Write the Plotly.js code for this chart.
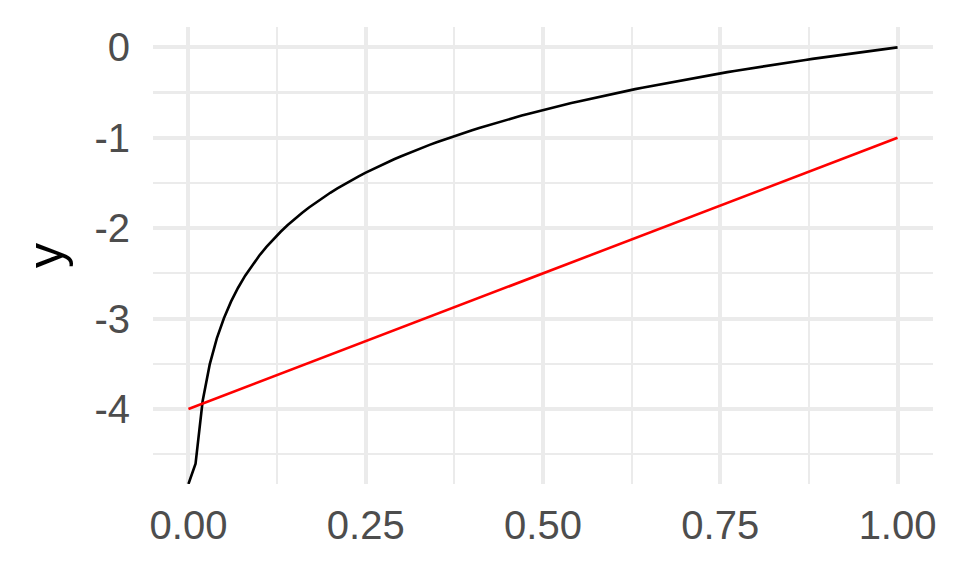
<!DOCTYPE html>
<html>
<head>
<meta charset="utf-8">
<script src="https://cdn.plot.ly/plotly-3.0.1.min.js"></script>
<style>
  html, body { margin: 0; padding: 0; background: #ffffff; }
  #chart { width: 960px; height: 576px; }
</style>
</head>
<body>
<div id="chart"></div>
<script>
// Black curve (first point sits on the lower panel edge)
var curveX = [0.00, 0.01, 0.02, 0.03, 0.04, 0.05, 0.06, 0.07, 0.08, 0.09,
  0.10, 0.11, 0.12, 0.13, 0.14, 0.15, 0.16, 0.17, 0.18, 0.19,
  0.20, 0.21, 0.22, 0.23, 0.24, 0.25, 0.26, 0.27, 0.28, 0.29,
  0.30, 0.31, 0.32, 0.33, 0.34, 0.35, 0.36, 0.37, 0.38, 0.39,
  0.40, 0.41, 0.42, 0.43, 0.44, 0.45, 0.46, 0.47, 0.48, 0.49,
  0.50, 0.51, 0.52, 0.53, 0.54, 0.55, 0.56, 0.57, 0.58, 0.59,
  0.60, 0.61, 0.62, 0.63, 0.64, 0.65, 0.66, 0.67, 0.68, 0.69,
  0.70, 0.71, 0.72, 0.73, 0.74, 0.75, 0.76, 0.77, 0.78, 0.79,
  0.80, 0.81, 0.82, 0.83, 0.84, 0.85, 0.86, 0.87, 0.88, 0.89,
  0.90, 0.91, 0.92, 0.93, 0.94, 0.95, 0.96, 0.97, 0.98, 0.99, 1.00];
var curveY = [-4.830, -4.605, -3.912, -3.507, -3.219, -2.996, -2.813, -2.659, -2.526, -2.408,
  -2.303, -2.207, -2.120, -2.040, -1.966, -1.897, -1.833, -1.772, -1.715, -1.661,
  -1.609, -1.561, -1.514, -1.470, -1.427, -1.386, -1.347, -1.309, -1.273, -1.238,
  -1.204, -1.171, -1.139, -1.109, -1.079, -1.050, -1.022, -0.994, -0.968, -0.942,
  -0.916, -0.892, -0.868, -0.844, -0.821, -0.799, -0.777, -0.755, -0.734, -0.713,
  -0.693, -0.673, -0.654, -0.635, -0.616, -0.598, -0.580, -0.562, -0.545, -0.528,
  -0.511, -0.494, -0.478, -0.462, -0.446, -0.431, -0.416, -0.400, -0.386, -0.371,
  -0.357, -0.342, -0.329, -0.315, -0.301, -0.288, -0.274, -0.261, -0.248, -0.236,
  -0.223, -0.211, -0.198, -0.186, -0.174, -0.163, -0.151, -0.139, -0.128, -0.117,
  -0.105, -0.094, -0.083, -0.073, -0.062, -0.051, -0.041, -0.030, -0.020, -0.010, 0.000];

// Red straight line
var lineX = [0.00, 1.00];
var lineY = [-4.00, -1.00];

// Tick labels
var xTickVals = [0, 0.25, 0.5, 0.75, 1];
var xTickText = ["0.00", "0.25", "0.50", "0.75", "1.00"];
var yTickVals = [0, -1, -2, -3, -4];
var yTickText = ["0", "-1", "-2", "-3", "-4"];

var traces = [
  { x: curveX, y: curveY, type: "scatter", mode: "lines",
    line: { color: "#000000", width: 2.6 }, hoverinfo: "skip" },
  { x: lineX, y: lineY, type: "scatter", mode: "lines",
    line: { color: "#FF0000", width: 2.6 }, hoverinfo: "skip" }
];

var font = "Liberation Sans, Arial, Helvetica, sans-serif";

var layout = {
  width: 960, height: 576,
  paper_bgcolor: "#ffffff", plot_bgcolor: "#ffffff",
  showlegend: false,
  margin: { l: 153, r: 27, t: 27, b: 92, pad: 0 },
  xaxis: {
    range: [-0.05, 1.05], tickmode: "array", tickvals: xTickVals, ticktext: xTickText,
    showgrid: true, gridcolor: "#EBEBEB", gridwidth: 4,
    minor: { tickmode: "array", tickvals: [0.125, 0.375, 0.625, 0.875], showgrid: true, gridcolor: "#EBEBEB", gridwidth: 2.2 },
    zeroline: false, showline: false, ticks: "", ticklabelstandoff: 14,
    tickfont: { family: font, size: 40, color: "#4D4D4D" },
    fixedrange: true
  },
  yaxis: {
    range: [-4.83, 0.225], tickmode: "array", tickvals: yTickVals, ticktext: yTickText,
    showgrid: true, gridcolor: "#EBEBEB", gridwidth: 4,
    minor: { tickmode: "array", tickvals: [-0.5, -1.5, -2.5, -3.5, -4.5], showgrid: true, gridcolor: "#EBEBEB", gridwidth: 2.2 },
    zeroline: false, showline: false, ticks: "", ticklabelstandoff: 22,
    tickfont: { family: font, size: 40, color: "#4D4D4D" },
    title: { text: "y", font: { family: font, size: 50, color: "#000000" }, standoff: 14 },
    fixedrange: true
  }
};

Plotly.newPlot("chart", traces, layout, { staticPlot: true, displayModeBar: false });
</script>
</body>
</html>
